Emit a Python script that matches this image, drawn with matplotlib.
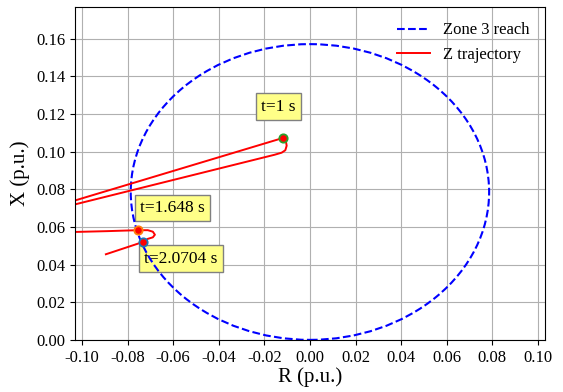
import matplotlib.pyplot as plt
from matplotlib.patches import Circle
from matplotlib.lines import Line2D

plt.rcParams['font.family'] = ['Liberation Serif', 'DejaVu Serif']
plt.rcParams['font.size'] = 12

# Zone 3 mho circle (centre on X axis, passes through origin)
zone_center = (0.0, 0.0786)
zone_radius = 0.0786

# impedance trajectory (goes beyond the left edge)
traj_r = [-0.125, -0.0119, -0.0106, -0.0102, -0.0108, -0.0124, -0.0155, -0.125,
          None,
          -0.125, -0.0887, -0.0755, -0.0711, -0.0689, -0.0680, -0.0689, -0.0711,
          -0.0733, -0.0895]
traj_x = [0.0661, 0.1073, 0.1059, 0.1032, 0.1008, 0.0995, 0.0984, 0.0654,
          None,
          0.0567, 0.0578, 0.0583, 0.0583, 0.0575, 0.0559, 0.0545, 0.0537,
          0.0520, 0.0455]

# marked instants
mark_t = ['1', '1.648', '2.0704']
mark_r = [-0.0119, -0.0755, -0.0733]
mark_x = [0.1073, 0.0583, 0.0520]
mark_edge = ['tab:green', 'tab:orange', 'tab:blue']
label_r = [-0.0213, -0.0745, -0.0727]
label_x = [0.1240, 0.0700, 0.0432]

fig = plt.figure(figsize=(5.63, 3.92), dpi=100)
ax = fig.add_axes([0.133, 0.133, 0.835, 0.848])

ax.add_patch(Circle(zone_center, zone_radius, fill=False, ec='blue',
                    ls='--', lw=1.5, zorder=2))

r = [v if v is not None else float('nan') for v in traj_r]
x = [v if v is not None else float('nan') for v in traj_x]
ax.plot(r, x, color='red', lw=1.4, zorder=2.1)

for t, mr, mx, ec, lr, lx in zip(mark_t, mark_r, mark_x, mark_edge, label_r, label_x):
    ax.plot(mr, mx, 'o', color='red', mec=ec, ms=6, mew=1.3, zorder=2.2)
    ax.text(lr, lx, f't={t} s', ha='left', va='center', fontsize=12.5, zorder=1.8,
            bbox=dict(boxstyle='square,pad=0.3', fc='#ffff88', ec='gray'))

ax.set_xlim(-0.1031, 0.1031)
ax.set_ylim(0, 0.1767)
ax.set_xticks([-0.10, -0.08, -0.06, -0.04, -0.02, 0.00, 0.02, 0.04, 0.06, 0.08, 0.10])
ax.set_yticks([0.00, 0.02, 0.04, 0.06, 0.08, 0.10, 0.12, 0.14, 0.16])
ax.xaxis.set_major_formatter(plt.FormatStrFormatter('%.2f'))
ax.yaxis.set_major_formatter(plt.FormatStrFormatter('%.2f'))
ax.grid(True)
ax.set_xlabel('R (p.u.)', fontsize=15, labelpad=1)
ax.set_ylabel('X (p.u.)', fontsize=15)

handles = [Line2D([], [], color='blue', ls='--', lw=1.5),
           Line2D([], [], color='red', lw=1.4)]
ax.legend(handles, ['Zone 3 reach', 'Z trajectory'], loc='upper right',
          frameon=False, fontsize=12)

fig.savefig('out.png', dpi=100)
